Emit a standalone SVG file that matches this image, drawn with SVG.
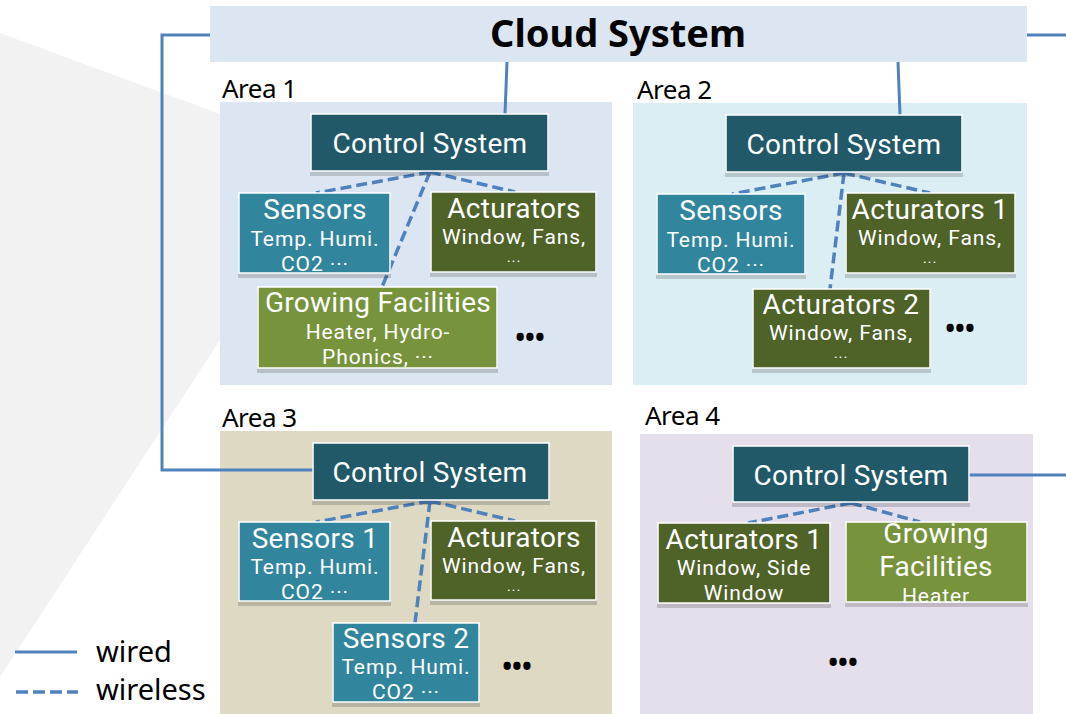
<svg xmlns="http://www.w3.org/2000/svg" width="1066" height="714" viewBox="0 0 1066 714">
<defs>
<style>
.area{stroke:none}
.lbl{font-family:"Noto Sans","DejaVu Sans",sans-serif;font-size:26px;fill:#000;letter-spacing:-0.5px}
.box{stroke:#fff;stroke-width:1.5}
.shadow{fill:#000;opacity:0.17}
.cs{fill:#215968}
.sen{fill:#31859c}
.act{fill:#4f6228}
.grow{fill:#77933c}
.t1{font-family:Roboto,"Liberation Sans",sans-serif;font-size:28px;fill:#fff;text-anchor:middle;letter-spacing:0.3px}
.t2{font-family:Roboto,"Liberation Sans",sans-serif;font-size:21px;fill:#fff;text-anchor:middle;letter-spacing:0.9px}
.t3{font-family:Roboto,"Liberation Sans",sans-serif;font-size:15px;fill:#fff;text-anchor:middle;letter-spacing:0.9px}
.dots{font-family:"Noto Sans","DejaVu Sans",sans-serif;font-size:26px;font-weight:bold;fill:#000;text-anchor:middle}
.wired{fill:none;stroke:#4f81bd;stroke-width:3}
.wireless{fill:none;stroke:#4f81bd;stroke-width:3.5;stroke-dasharray:11 5}
.leg{font-family:"Noto Sans","DejaVu Sans",sans-serif;font-size:29px;fill:#000}
</style>
</defs>
<rect width="1066" height="714" fill="#fff"/>
<polygon points="0,33 220,114 220,340 0,677" fill="#f2f2f2"/>

<g id="cloud">
<rect x="210" y="6" width="817" height="56" fill="#dce6f2"/>
<text x="618" y="47" font-family="'Noto Sans','DejaVu Sans',sans-serif" font-size="38" font-weight="bold" text-anchor="middle" fill="#000">Cloud System</text>
</g>

<g id="area1">
<text class="lbl" x="222" y="98">Area 1</text>
<rect class="area" x="220" y="102" width="392" height="283" fill="#dce6f2"/>
</g>
<g id="area2">
<text class="lbl" x="637" y="99">Area 2</text>
<rect class="area" x="633" y="103" width="394" height="282" fill="#dbeef4"/>
</g>
<g id="area3">
<text class="lbl" x="222" y="427">Area 3</text>
<rect class="area" x="220" y="431" width="392" height="283" fill="#ddd9c3"/>
</g>
<g id="area4">
<text class="lbl" x="645" y="425">Area 4</text>
<rect class="area" x="640" y="434" width="393" height="280" fill="#e5dfec"/>
</g>

<g id="connectors">
<polyline class="wired" points="210,35 162,35 162,470 313,470"/>
<line class="wired" x1="1027" y1="35" x2="1066" y2="35"/>
<line class="wired" x1="507" y1="62" x2="505" y2="114"/>
<line class="wired" x1="898" y1="62" x2="900" y2="115"/>
<line class="wired" x1="969" y1="475" x2="1066" y2="475"/>
<path class="wireless" d="M430,172 L316,193 M430,172 L515,192 M430,172 L382,287"/>
<path class="wireless" d="M844,173 L732,194 M844,173 L930,193 M844,173 L830,289"/>
<path class="wireless" d="M430,501 L316,522 M430,501 L515,521 M430,501 L415,623"/>
<path class="wireless" d="M851,503 L748,523 M851,503 L920,522"/>
</g>

<!-- Area 1 nodes -->
<g id="a1-control">
<rect class="shadow" x="310" y="119" width="239" height="57"/>
<rect class="box cs" x="311" y="114" width="237" height="57"/>
<text class="t1" x="430" y="153">Control System</text>
</g>
<g id="a1-sensors">
<rect class="shadow" x="238" y="198" width="153" height="80"/>
<rect class="box sen" x="239" y="193" width="151" height="80"/>
<text class="t1" x="315" y="219">Sensors</text>
<text class="t2" x="315" y="246">Temp. Humi.</text>
<text class="t2" x="315" y="271">CO2 ···</text>
</g>
<g id="a1-act">
<rect class="shadow" x="430" y="197" width="167" height="80"/>
<rect class="box act" x="431" y="192" width="165" height="80"/>
<text class="t1" x="514" y="218">Acturators</text>
<text class="t2" x="514" y="244">Window, Fans,</text>
<text class="t3" x="514" y="267">···</text>
</g>
<g id="a1-grow">
<rect class="shadow" x="257" y="292" width="241" height="81"/>
<rect class="box grow" x="258" y="287" width="239" height="81"/>
<text class="t1" x="378" y="312">Growing Facilities</text>
<text class="t2" x="378" y="339">Heater, Hydro-</text>
<text class="t2" x="378" y="364">Phonics, ···</text>
</g>
<text class="dots" x="530" y="347">•••</text>

<!-- Area 2 nodes -->
<g id="a2-control">
<rect class="shadow" x="725" y="120" width="238" height="57"/>
<rect class="box cs" x="726" y="115" width="236" height="57"/>
<text class="t1" x="844" y="154">Control System</text>
</g>
<g id="a2-sensors">
<rect class="shadow" x="656" y="199" width="150" height="80"/>
<rect class="box sen" x="657" y="194" width="148" height="80"/>
<text class="t1" x="731" y="220">Sensors</text>
<text class="t2" x="731" y="247">Temp. Humi.</text>
<text class="t2" x="731" y="272">CO2 ···</text>
</g>
<g id="a2-act1">
<rect class="shadow" x="845" y="198" width="171" height="80"/>
<rect class="box act" x="846" y="193" width="169" height="80"/>
<text class="t1" x="930" y="219">Acturators 1</text>
<text class="t2" x="930" y="245">Window, Fans,</text>
<text class="t3" x="930" y="268">···</text>
</g>
<g id="a2-act2">
<rect class="shadow" x="752" y="294" width="179" height="79"/>
<rect class="box act" x="753" y="289" width="177" height="79"/>
<text class="t1" x="841" y="314">Acturators 2</text>
<text class="t2" x="841" y="340">Window, Fans,</text>
<text class="t3" x="841" y="363">···</text>
</g>
<text class="dots" x="960" y="338">•••</text>

<!-- Area 3 nodes -->
<g id="a3-control">
<rect class="shadow" x="312" y="448" width="238" height="57"/>
<rect class="box cs" x="313" y="443" width="236" height="57"/>
<text class="t1" x="430" y="482">Control System</text>
</g>
<g id="a3-sensors1">
<rect class="shadow" x="238" y="527" width="153" height="79"/>
<rect class="box sen" x="239" y="522" width="151" height="79"/>
<text class="t1" x="315" y="548">Sensors 1</text>
<text class="t2" x="315" y="574">Temp. Humi.</text>
<text class="t2" x="315" y="599">CO2 ···</text>
</g>
<g id="a3-act">
<rect class="shadow" x="430" y="526" width="167" height="79"/>
<rect class="box act" x="431" y="521" width="165" height="79"/>
<text class="t1" x="514" y="547">Acturators</text>
<text class="t2" x="514" y="573">Window, Fans,</text>
<text class="t3" x="514" y="596">···</text>
</g>
<g id="a3-sensors2">
<rect class="shadow" x="332" y="628" width="148" height="79"/>
<rect class="box sen" x="333" y="623" width="146" height="79"/>
<text class="t1" x="406" y="648">Sensors 2</text>
<text class="t2" x="406" y="674">Temp. Humi.</text>
<text class="t2" x="406" y="699">CO2 ···</text>
</g>
<text class="dots" x="517" y="676">•••</text>

<!-- Area 4 nodes -->
<g id="a4-control">
<rect class="shadow" x="732" y="451" width="238" height="56"/>
<rect class="box cs" x="733" y="446" width="236" height="56"/>
<text class="t1" x="851" y="485">Control System</text>
</g>
<g id="a4-act1">
<rect class="shadow" x="657" y="528" width="174" height="80"/>
<rect class="box act" x="658" y="523" width="172" height="80"/>
<text class="t1" x="744" y="549">Acturators 1</text>
<text class="t2" x="744" y="575">Window, Side</text>
<text class="t2" x="744" y="600">Window</text>
</g>
<g id="a4-grow">
<rect class="shadow" x="845" y="527" width="183" height="80"/>
<rect class="box grow" x="846" y="522" width="181" height="80"/>
<text class="t1" x="936" y="543">Growing</text>
<text class="t1" x="936" y="576">Facilities</text>
<text class="t2" x="936" y="603">Heater</text>
</g>
<text class="dots" x="843" y="672">•••</text>

<g id="legend">
<line class="wired" x1="15" y1="652" x2="77" y2="652"/>
<text class="leg" x="96" y="662">wired</text>
<line x1="16" y1="692" x2="78" y2="692" stroke="#4f81bd" stroke-width="3.5" stroke-dasharray="12 5"/>
<text class="leg" x="96" y="700">wireless</text>
</g>
</svg>
